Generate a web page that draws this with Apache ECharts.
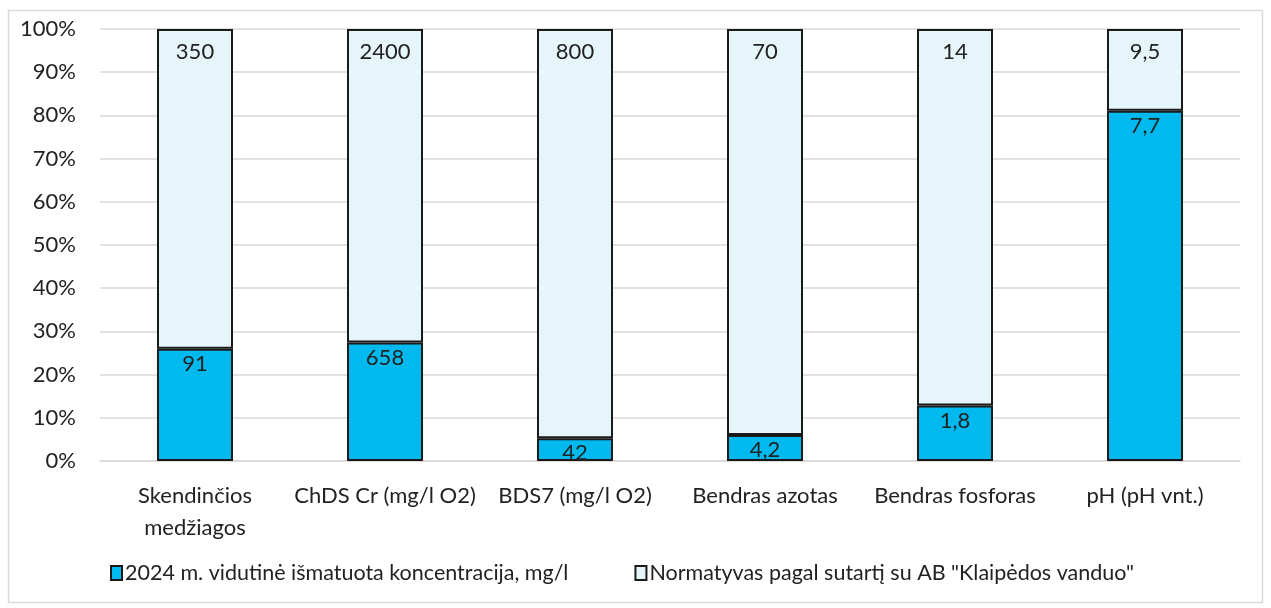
<!DOCTYPE html>
<html><head><meta charset="utf-8">
<script src="https://cdn.jsdelivr.net/npm/echarts@6/dist/echarts.min.js"></script>
<style>html,body{margin:0;padding:0;background:#fff}#c{width:1271px;height:608px}</style>
</head><body><div id="c"></div>
<script>
const categories = ['Skendinčios\nmedžiagos','ChDS Cr (mg/l O2)','BDS7 (mg/l O2)','Bendras azotas','Bendras fosforas','pH (pH vnt.)'];
const measured = [91, 658, 42, 4.2, 1.8, 7.7];
const norm = [350, 2400, 800, 70, 14, 9.5];
const seriesNames = ['2024 m. vidutinė išmatuota koncentracija, mg/l', 'Normatyvas pagal sutartį su AB "Klaipėdos vanduo"'];
const yTicks = [0,10,20,30,40,50,60,70,80,90,100];

const share = measured.map((m,i)=> m / norm[i] * 100);
const rest = share.map(s => 100 - s);
const fmt = v => String(v).replace('.', ',');
const FONT = 'Lato';

const chart = echarts.init(document.getElementById('c'));
chart.setOption({
  animation:false,
  graphic:[{type:'rect', shape:{x:8.5,y:10.5,width:1254,height:592}, style:{fill:'none', stroke:'#d9d9d9', lineWidth:1.5}, silent:true}],
  grid:{left:100,right:31,top:29,bottom:147},
  legend:{
    bottom:19, left:105, itemGap:66, itemWidth:11, itemHeight:14,
    textStyle:{fontFamily:FONT, fontSize:21.5, color:'#222', padding:[0,0,0,-2]},
    data:seriesNames.map(n=>({name:n, icon:'rect'}))
  },
  xAxis:{type:'category', data:categories,
    axisLine:{lineStyle:{color:'#d9d9d9', width:1.5}}, axisTick:{show:false},
    axisLabel:{fontFamily:FONT, fontSize:22, color:'#222', margin:19, lineHeight:32, interval:0}},
  yAxis:{type:'value', min:0, max:100, interval:10,
    axisLabel:{formatter:v=>v+'%', fontFamily:FONT, fontSize:22, color:'#222', margin:24},
    splitLine:{lineStyle:{color:'#d9d9d9', width:1.5}}, axisLine:{show:false}, axisTick:{show:false}},
  series:[
    {name:seriesNames[0], type:'bar', stack:'a', barWidth:'40%', data:share,
     itemStyle:{color:'#00B9EE', borderColor:'#1a1a1a', borderWidth:2},
     label:{show:true, position:'insideTop', distance:4, formatter:p=>fmt(measured[p.dataIndex]), fontFamily:FONT, fontSize:22, color:'#222'}},
    {name:seriesNames[1], type:'bar', stack:'a', barWidth:'40%', data:rest,
     itemStyle:{color:'#E5F5FA', borderColor:'#1a1a1a', borderWidth:2},
     label:{show:true, position:'insideTop', distance:12, formatter:p=>fmt(norm[p.dataIndex]), fontFamily:FONT, fontSize:22, color:'#222'}}
  ]
});
</script></body></html>
